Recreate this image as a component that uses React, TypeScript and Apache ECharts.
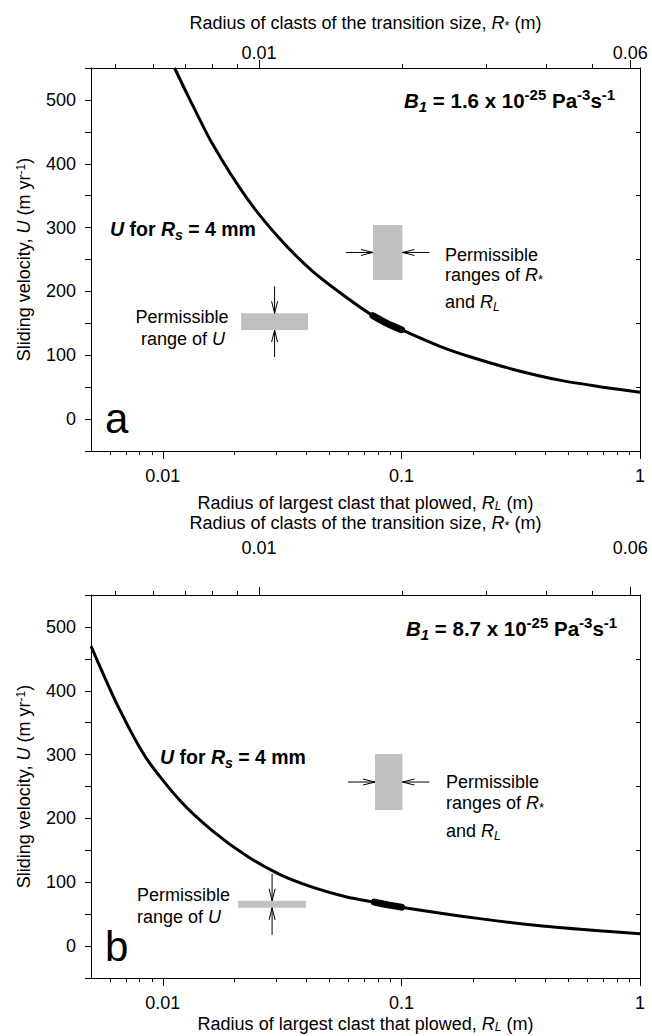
import React, { useEffect, useRef } from "react";
import * as echarts from "echarts";

// ---------- axis extents ----------
const rlMin = 0.005;
const rlMax = 1;
const rStarAtRlMax = 0.0629; // R* aligned with RL = 1 (R* scales with sqrt(RL))
const uMin = -50;
const uMax = 550;

// ---------- tick values ----------
const rlMajorTicks = [0.01, 0.1, 1];
const rlMinorTicks = [0.006, 0.007, 0.008, 0.009, 0.02, 0.03, 0.04, 0.05, 0.06, 0.07, 0.08, 0.09, 0.2, 0.3, 0.4, 0.5, 0.6, 0.7, 0.8, 0.9];
const rStarMajorTicks = [0.01, 0.06];
const rStarMinorTicks = [0.005, 0.006, 0.007, 0.008, 0.009, 0.02, 0.03, 0.04, 0.05];

// ---------- panel a : B1 = 1.6e-25 ----------
const rlCurveA = [0.0112, 0.013, 0.0162, 0.0225, 0.031, 0.0426, 0.0591, 0.076, 0.1, 0.145, 0.2, 0.3, 0.46, 0.7, 1];
const uCurveA = [550, 500, 430, 346, 282, 231, 190, 162, 140, 114, 96, 77, 61, 50, 42];
const rlThickA = [0.076, 0.087, 0.1];
const uThickA = [162, 150, 140];
const uBoxRlA = [0.0213, 0.0406];
const uBoxUA = [139.5, 165.7];
const rBoxRlA = [0.076, 0.101];
const rBoxUA = [218, 304];

// ---------- panel b : B1 = 8.7e-25 ----------
const rlCurveB = [0.005, 0.0065, 0.0085, 0.0118, 0.0162, 0.0225, 0.031, 0.0426, 0.059, 0.078, 0.1, 0.213, 0.4, 0.7, 1];
const uCurveB = [470, 375, 295, 228, 180, 141, 112, 92, 77, 68.5, 61, 43, 31, 23.5, 19.5];
const rlThickB = [0.077, 0.088, 0.1];
const uThickB = [68.8, 64.6, 61];
const uBoxRlB = [0.0207, 0.0398];
const uBoxUB = [60, 71];
const rBoxRlB = [0.0775, 0.101];
const rBoxUB = [213, 301];

const FONT = "'Liberation Sans', Arial, Helvetica, sans-serif";
const L10 = Math.log10;

const rStarMax = L10(rStarAtRlMax);
const rStarMin = rStarMax + 0.5 * L10(rlMin);

function fmtFrom(list: number[]) {
  return (v: number) => {
    const t = list.find((l) => Math.abs(L10(l) - v) < 1e-6);
    return t === undefined ? "" : String(t);
  };
}

const FS = 18;

const nameRich = {
  i: { fontFamily: FONT, fontSize: FS, fontStyle: "italic", color: "#000" },
  sub: { fontFamily: FONT, fontSize: 12, fontStyle: "italic", color: "#000", verticalAlign: "bottom", lineHeight: 12 },
  sup: { fontFamily: FONT, fontSize: 12, color: "#000", verticalAlign: "top", lineHeight: 12 },
  ast: { fontFamily: FONT, fontSize: 13, color: "#000", verticalAlign: "bottom", lineHeight: 15 },
};

function xAxesFor(gridIndex: number, bottomGap: number, topGap: number, topMargin: number) {
  const lineStyle = { color: "#000", width: 1 };
  return [
    {
      gridIndex, type: "value", position: "bottom", min: L10(rlMin), max: L10(rlMax),
      axisLine: { show: true, onZero: false, lineStyle },
      axisTick: { show: true, customValues: rlMajorTicks.map(L10), length: 8, lineStyle },
      axisLabel: { show: true, customValues: rlMajorTicks.map(L10), formatter: fmtFrom(rlMajorTicks), margin: 16, color: "#000", fontSize: FS, fontFamily: FONT },
      splitLine: { show: false },
      name: "Radius of largest clast that plowed, {i|R}{sub|L} (m)",
      nameLocation: "middle", nameGap: bottomGap,
      nameTextStyle: { color: "#000", fontSize: FS, fontFamily: FONT, rich: nameRich },
    },
    {
      gridIndex, type: "value", position: "bottom", min: L10(rlMin), max: L10(rlMax),
      axisLine: { show: false, onZero: false },
      axisTick: { show: true, customValues: rlMinorTicks.map(L10), length: 4, lineStyle },
      axisLabel: { show: false },
      splitLine: { show: false },
    },
    {
      gridIndex, type: "value", position: "top", min: rStarMin, max: rStarMax,
      axisLine: { show: true, onZero: false, lineStyle },
      axisTick: { show: true, customValues: rStarMajorTicks.map(L10), length: 8, lineStyle },
      axisLabel: { show: true, customValues: rStarMajorTicks.map(L10), formatter: fmtFrom(rStarMajorTicks), margin: topMargin, color: "#000", fontSize: FS, fontFamily: FONT },
      splitLine: { show: false },
      name: "Radius of clasts of the transition size, {i|R}{ast|*} (m)",
      nameLocation: "middle", nameGap: topGap,
      nameTextStyle: { color: "#000", fontSize: FS, fontFamily: FONT, rich: nameRich },
    },
    {
      gridIndex, type: "value", position: "top", min: rStarMin, max: rStarMax,
      axisLine: { show: false, onZero: false },
      axisTick: { show: true, customValues: rStarMinorTicks.map(L10), length: 4, lineStyle },
      axisLabel: { show: false },
      splitLine: { show: false },
    },
  ];
}

function yAxesFor(gridIndex: number) {
  const lineStyle = { color: "#000", width: 1 };
  return [
    {
      gridIndex, type: "value", position: "left", min: uMin, max: uMax, interval: 50,
      axisLine: { show: true, onZero: false, lineStyle },
      axisTick: { show: true, length: 6, lineStyle },
      axisLabel: { formatter: (v: number) => (v % 100 === 0 ? String(v) : ""), margin: 15, color: "#000", fontSize: FS, fontFamily: FONT },
      splitLine: { show: false },
      name: "Sliding velocity, {i|U} (m yr{sup|-1})",
      nameLocation: "middle", nameGap: 58,
      nameTextStyle: { color: "#000", fontSize: FS, fontFamily: FONT, rich: nameRich },
    },
    {
      gridIndex, type: "value", position: "right", min: uMin, max: uMax, interval: 100,
      axisLine: { show: true, onZero: false, lineStyle },
      axisTick: { show: true, inside: true, length: 4, lineStyle },
      axisLabel: { show: false },
      splitLine: { show: false },
    },
  ];
}

function boxesRenderItem(params: any, api: any) {
  const x0 = api.value(0), x1 = api.value(1), y0 = api.value(2), y1 = api.value(3), kind = api.value(4);
  const p0 = api.coord([x0, y1]);
  const p1 = api.coord([x1, y0]);
  const left = p0[0], top = p0[1], right = p1[0], bottom = p1[1];
  const st = { stroke: "#000", lineWidth: 1, fill: null };
  const L = 27, hl = 12, hw = 3;
  const children: any[] = [
    { type: "rect", shape: { x: left, y: top, width: right - left, height: bottom - top }, style: { fill: "#c0c0c0" } },
  ];
  if (kind === 0) {
    const cx = (left + right) / 2;
    children.push({ type: "line", shape: { x1: cx, y1: top - L, x2: cx, y2: top }, style: st });
    children.push({ type: "polyline", shape: { points: [[cx - hw, top - hl], [cx, top], [cx + hw, top - hl]] }, style: st });
    children.push({ type: "line", shape: { x1: cx, y1: bottom + L, x2: cx, y2: bottom }, style: st });
    children.push({ type: "polyline", shape: { points: [[cx - hw, bottom + hl], [cx, bottom], [cx + hw, bottom + hl]] }, style: st });
  } else {
    const cy = (top + bottom) / 2;
    children.push({ type: "line", shape: { x1: left - L, y1: cy, x2: left, y2: cy }, style: st });
    children.push({ type: "polyline", shape: { points: [[left - hl, cy - hw], [left, cy], [left - hl, cy + hw]] }, style: st });
    children.push({ type: "line", shape: { x1: right + L, y1: cy, x2: right, y2: cy }, style: st });
    children.push({ type: "polyline", shape: { points: [[right + hl, cy - hw], [right, cy], [right + hl, cy + hw]] }, style: st });
  }
  return { type: "group", children };
}

function seriesFor(xi: number, yi: number, rl: number[], u: number[], rlT: number[], uT: number[],
  uBoxRl: number[], uBoxU: number[], rBoxRl: number[], rBoxU: number[]) {
  return [
    {
      type: "custom", xAxisIndex: xi, yAxisIndex: yi, renderItem: boxesRenderItem, silent: true,
      encode: { x: [0, 1], y: [2, 3] },
      data: [
        [L10(uBoxRl[0]), L10(uBoxRl[1]), uBoxU[0], uBoxU[1], 0],
        [L10(rBoxRl[0]), L10(rBoxRl[1]), rBoxU[0], rBoxU[1], 1],
      ],
      z: 1,
    },
    {
      type: "line", xAxisIndex: xi, yAxisIndex: yi, showSymbol: false, symbol: "none",
      smooth: 0.25,
      lineStyle: { color: "#000", width: 3 },
      data: rl.map((r, i) => [L10(r), u[i]]),
      z: 3,
    },
    {
      type: "line", xAxisIndex: xi, yAxisIndex: yi, showSymbol: false, symbol: "none",
      smooth: 0.3,
      lineStyle: { color: "#000", width: 7, cap: "round" },
      data: rlT.map((r, i) => [L10(r), uT[i]]),
      z: 4,
    },
  ];
}

function rt(size: number, extra: any = {}) {
  return { fontFamily: FONT, fontSize: size, fill: "#000", ...extra };
}

const BF = 19.5;
const richAnn = {
  b: rt(BF, { fontWeight: "bold", lineHeight: 26, verticalAlign: "middle" }),
  bi: rt(BF, { fontWeight: "bold", fontStyle: "italic", lineHeight: 26, verticalAlign: "middle" }),
  bisub: rt(14, { fontWeight: "bold", fontStyle: "italic", lineHeight: 13, verticalAlign: "bottom" }),
  B: rt(20.5, { fontWeight: "bold", lineHeight: 27, verticalAlign: "middle" }),
  BI: rt(20.5, { fontWeight: "bold", fontStyle: "italic", lineHeight: 27, verticalAlign: "middle" }),
  BIsub: rt(15, { fontWeight: "bold", fontStyle: "italic", lineHeight: 14, verticalAlign: "bottom" }),
  Bsup: rt(15, { fontWeight: "bold", lineHeight: 14, verticalAlign: "top" }),
  n: rt(FS, { lineHeight: 22, verticalAlign: "middle" }),
  i: rt(FS, { fontStyle: "italic", lineHeight: 22, verticalAlign: "middle" }),
  isub: rt(12, { fontStyle: "italic", lineHeight: 12, verticalAlign: "bottom" }),
  ast: rt(13, { lineHeight: 15, verticalAlign: "bottom" }),
};

function txt(x: number, y: number, text: string, align = "left") {
  return {
    type: "text", x, y, silent: true,
    style: { text, rich: richAnn, fontFamily: FONT, fontSize: FS, fill: "#000", align, verticalAlign: "middle", textAlign: align, textVerticalAlign: "middle" },
  };
}

function bigLetter(x: number, y: number, text: string) {
  return {
    type: "text", x, y, silent: true,
    style: { text, fontFamily: FONT, fontSize: 42, fill: "#000", align: "left", verticalAlign: "middle", textAlign: "left", textVerticalAlign: "middle" },
  };
}

export default function App() {
  const ref = useRef<HTMLDivElement>(null);
  useEffect(() => {
    if (!ref.current) return;
    const chart = echarts.init(ref.current, null, { renderer: "svg" });
    const texts = [
      // panel a
      txt(404, 100, "{BI|B}{BIsub|1}{B| = 1.6 x 10}{Bsup|-25}{B| Pa}{Bsup|-3}{B|s}{Bsup|-1}"),
      txt(110, 229, "{bi|U}{b| for }{bi|R}{bisub|s}{b| = 4 mm}"),
      txt(182, 317, "{n|Permissible}", "center"),
      txt(183, 338.5, "{n|range of }{i|U}", "center"),
      txt(445, 255, "{n|Permissible}"),
      txt(445, 275, "{n|ranges of }{i|R}{ast|*}"),
      txt(445, 302, "{n|and }{i|R}{isub|L}"),
      bigLetter(105, 418, "a"),
      // panel b
      txt(406, 628, "{BI|B}{BIsub|1}{B| = 8.7 x 10}{Bsup|-25}{B| Pa}{Bsup|-3}{B|s}{Bsup|-1}"),
      txt(160, 757, "{bi|U}{b| for }{bi|R}{bisub|s}{b| = 4 mm}"),
      txt(137, 895, "{n|Permissible}"),
      txt(137, 916.5, "{n|range of }{i|U}"),
      txt(446, 782, "{n|Permissible}"),
      txt(446, 803, "{n|ranges of }{i|R}{ast|*}"),
      txt(446, 831, "{n|and }{i|R}{isub|L}"),
      bigLetter(105, 946, "b"),
    ];

    chart.setOption({
      animation: false,
      backgroundColor: "#fff",
      textStyle: { fontFamily: FONT },
      grid: [
        { left: 91, top: 68, width: 549, height: 383, containLabel: false },
        { left: 91, top: 595, width: 549, height: 383, containLabel: false },
      ],
      xAxis: [...xAxesFor(0, 43, 36, 6), ...xAxesFor(1, 37, 63, 38)],
      yAxis: [...yAxesFor(0), ...yAxesFor(1)],
      series: [
        ...seriesFor(0, 0, rlCurveA, uCurveA, rlThickA, uThickA, uBoxRlA, uBoxUA, rBoxRlA, rBoxUA),
        ...seriesFor(4, 2, rlCurveB, uCurveB, rlThickB, uThickB, uBoxRlB, uBoxUB, rBoxRlB, rBoxUB),
      ],
      graphic: texts,
    });
    return () => chart.dispose();
  }, []);
  return <div ref={ref} style={{ position: "absolute", left: 0, top: 0, width: 652, height: 1036, background: "#fff" }} />;
}
